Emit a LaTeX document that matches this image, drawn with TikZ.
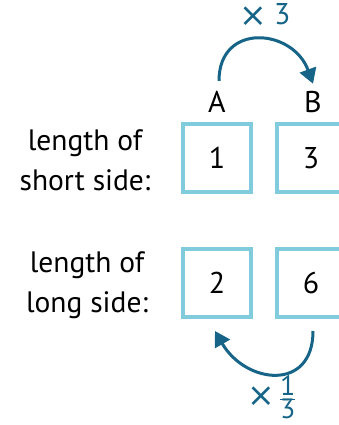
\documentclass[tikz,border=0pt]{standalone}
\usepackage{fontspec}
\setmainfont{PT Sans}
\newfontfamily\symfont{DejaVu Sans}
\usepackage{tikz}
\usetikzlibrary{positioning, arrows.meta}
\definecolor{BoxBlue}{RGB}{128, 203, 220}
\definecolor{ArrowTeal}{RGB}{22, 100, 135}
\newcommand{\bigtimes}{\raisebox{-2pt}{\symfont\fontsize{33}{36}\selectfont ×}}

\begin{document}
\begin{tikzpicture}[x=1pt, y=1pt,
    numbox/.style={draw=BoxBlue, line width=4pt, minimum size=68pt, inner sep=0pt,
                   font=\fontsize{30}{34}\selectfont},
    colhead/.style={font=\fontsize{30}{34}\selectfont},
    rowlabel/.style={align=center, font=\fontsize{29.5}{40}\selectfont},
    scalelabel/.style={text=ArrowTeal, inner sep=0pt},
    scalearrow/.style={draw=ArrowTeal, line width=3pt, looseness=1.6,
                       -{Triangle[length=15pt, width=17pt]}}]
      % Frame
      \useasboundingbox (0,0) rectangle (339,425);
      \clip (0,0) rectangle (339,425);

      % Boxes
      \node[numbox] (a1) at (217,267) {1};
      \node[numbox] (b1) at (311,267) {3};
      \node[numbox] (a2) at (217,142) {2};
      \node[numbox] (b2) at (311,142) {6};

      % Column heads
      \node[colhead] (headA) at (217,323) {A};
      \node[colhead] (headB) at (313,323) {B};

      % Row labels
      \node[rowlabel] (short) at (85,265) {length of\\short side:};
      \node[rowlabel] (long) at (87,140) {length of\\long side:};

      % Scale arrows
      \draw[scalearrow] ([xshift=2pt, yshift=7pt]headA.north) to[out=90, in=110] ([yshift=4pt]headB.north);
      \draw[scalearrow] ([xshift=2pt, yshift=-12pt]b2.south) to[out=-90, in=-60] ([xshift=-2pt, yshift=-12pt]a2.south);
      \node[scalelabel, anchor=base] (times3) at (265,400)
        {\bigtimes\hspace{7pt}{\fontsize{30}{32}\selectfont 3}};
      \node[scalelabel, anchor=base west, font=\fontsize{28}{32}\selectfont] (third) at (247,20)
        {\bigtimes$\,\frac{\textrm{1}}{\textrm{3}}$};
\end{tikzpicture}
\end{document}
